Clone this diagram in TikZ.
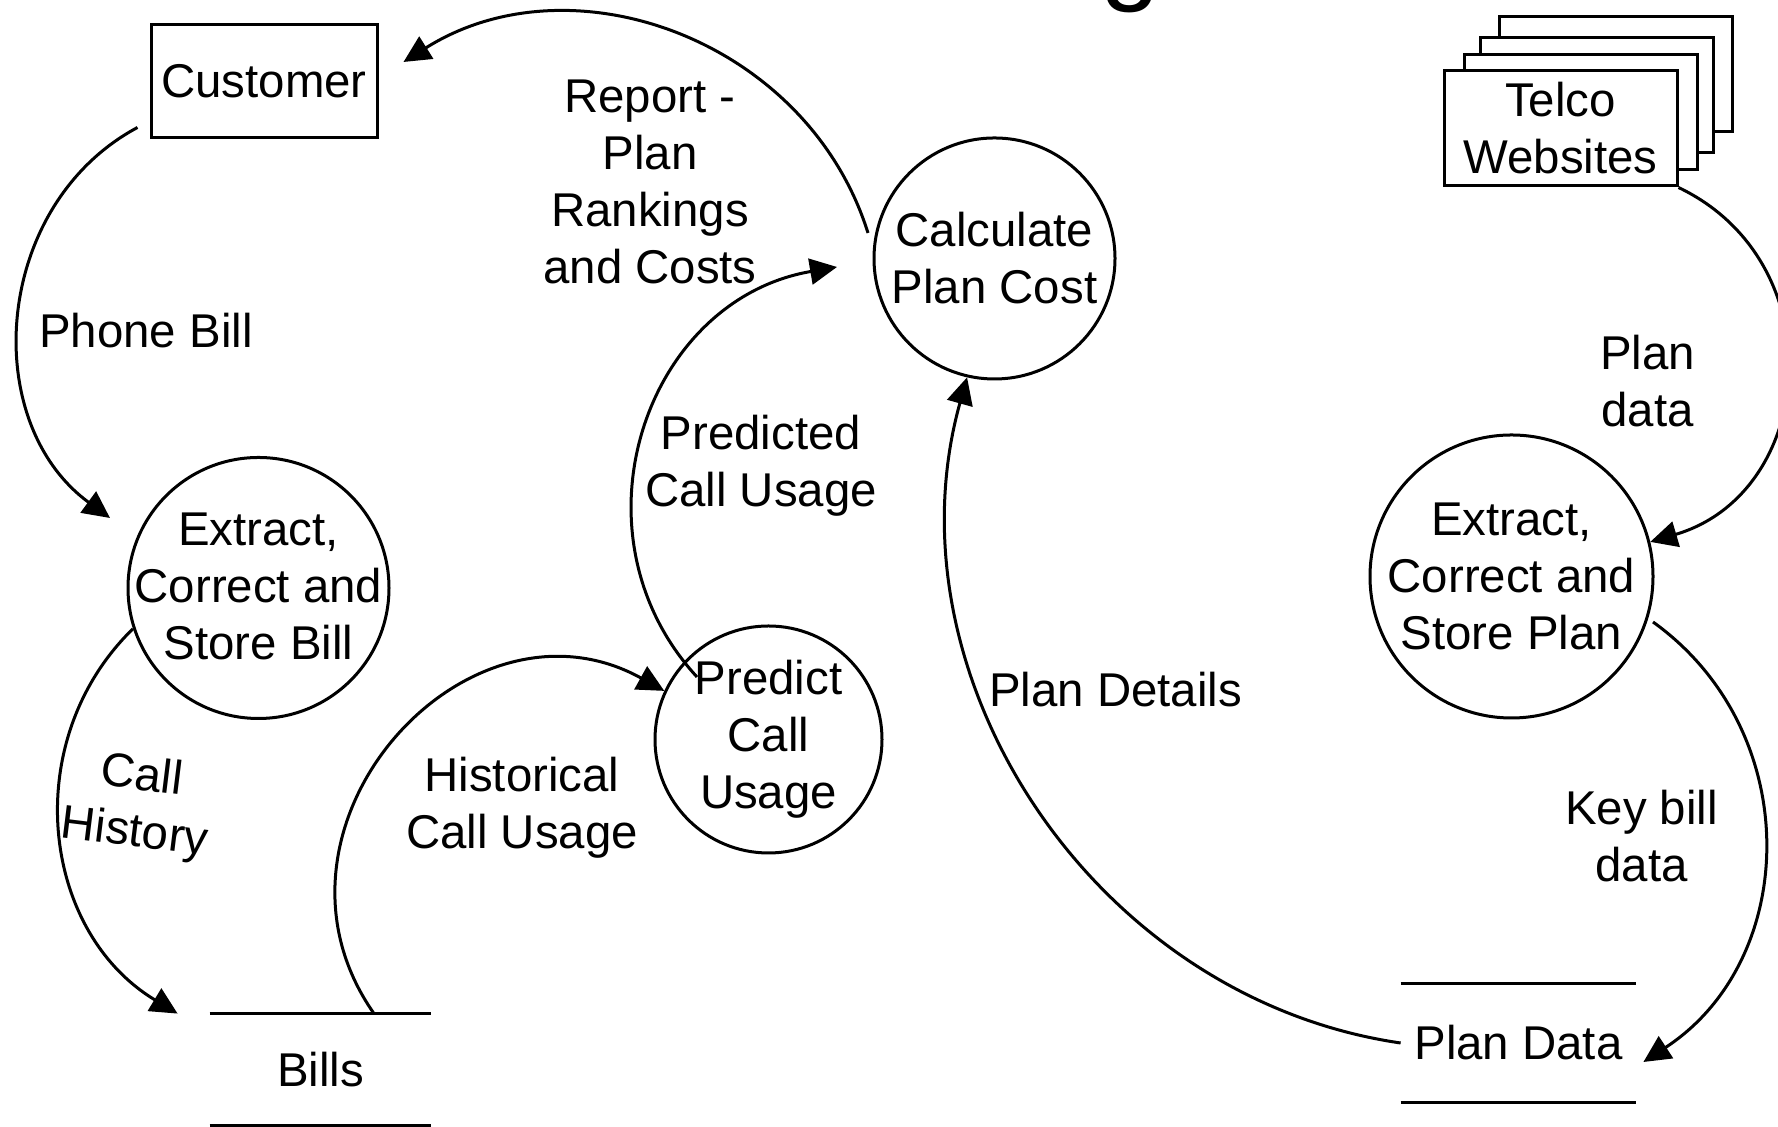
\documentclass[tikz,border=0pt]{standalone}
\usepackage{fontspec}
\setmainfont{Liberation Sans}
\usetikzlibrary{arrows.meta}
\begin{document}
\begin{tikzpicture}[x=0.5pt,y=0.5pt,
  every node/.style={font=\fontsize{23.7}{28.5}\selectfont},
  proc/.style={draw, circle, line width=1.5pt, inner sep=0pt},
  ptext/.style={inner sep=0pt, align=center},
  ent/.style={draw, rectangle, line width=1.5pt, align=center, fill=white, inner sep=2pt, minimum width=116.5pt, minimum height=57.5pt},
  store/.style={inner sep=0pt, align=center},
  lbl/.style={inner sep=0pt, align=center, anchor=north},
  flow/.style={line width=1.5pt, -{Triangle[length=13.5pt,width=13pt]}},
  flowplain/.style={line width=1.5pt}
]
\useasboundingbox (0,0) rectangle (1778,1127);

% title fragment
\node[anchor=base west, inner sep=0pt, font=\fontsize{54}{60}\selectfont] (title) at (1100,1136) {g};

% entities
\node[ent, minimum width=113pt, minimum height=56.5pt] (cust) at (264,1045.5) {Customer};
\node[ent] (tw4) at (1615.5,1052.5) {};
\node[ent] (tw3) at (1597,1032) {};
\node[ent] (tw2) at (1580.5,1015) {};
\node[ent] (telco) at (1560.5,998.5) {Telco\\Websites};

% processes
\node[proc, minimum size=120.5pt] (calc) at (994.5,868.5) {};
\node[ptext] (calct) at (calc.center) {Calculate\\Plan Cost};
\node[proc, minimum size=130.5pt] (bill) at (258.5,539) {};
\node[ptext] (billt) at ([yshift=1pt]bill.center) {Extract,\\Correct and\\Store Bill};
\node[proc, minimum size=113.5pt] (pred) at (768.5,387.5) {};
\node[ptext] (predt) at (pred.center) {Predict\\Call\\Usage};
\node[proc, minimum size=141.5pt] (plan) at (1511.5,550.5) {};
\node[ptext] (plant) at (plan.center) {Extract,\\Correct and\\Store Plan};

% data stores
\node[store, minimum width=110.5pt, minimum height=55.5pt] (bills) at (320.5,57.5) {Bills};
\draw[flowplain] (bills.north west) -- (bills.north east);
\draw[flowplain] (bills.south west) -- (bills.south east);
\node[store, minimum width=117.5pt, minimum height=59pt] (pd) at (1518.5,84) {Plan Data};
\draw[flowplain] (pd.north west) -- (pd.north east);
\draw[flowplain] (pd.south west) -- (pd.south east);

% labels
\node[lbl] (lreport) at (650,1047) {Report -\\Plan\\Rankings\\and Costs};
\node[lbl] (lpred) at (761,712) {Predicted\\Call Usage};
\node[lbl] (lhist) at (522,370) {Historical\\Call Usage};
\node[lbl] (lphone) at (146,814) {Phone Bill};
\node[lbl] (ldet) at (1115.5,455) {Plan Details};
\node[lbl] (lpland) at (1647.5,792) {Plan\\data};
\node[lbl] (lkey) at (1641.5,337) {Key bill\\data};
\node[inner sep=0pt, align=center, rotate=-7] (lcall) at (138,321) {Call\\History};

% connectors
\coordinate (c1s) at ([shift={(-6pt,6pt)}]cust.south west);
\coordinate (c1e) at (110,609);
\draw[flow] (c1s) to[bend right=57.8, looseness=1.07] (c1e);

\coordinate (c2s) at (868,894);
\coordinate (c2e) at ([shift={(12.5pt,9.75pt)}]cust.east);
\draw[flow] (c2s) to[bend right=52.4, looseness=1.04] (c2e);

\coordinate (c3e) at ([xshift=-16pt]bills.north west);
\draw[flow] (bill.198) to[bend right=52.3, looseness=1.057] (c3e);

\coordinate (c4s) at ([xshift=26.75pt]bills.north);
\draw[flow] (c4s) to[bend left=77, looseness=1.34] (pred.155.8);

\coordinate (c5s) at (697,450);
\coordinate (c5e) at (837,860);
\draw[flow] (c5s) to[bend left=61.4, looseness=1.152] (c5e);

\draw[flow] (pd.west) to[bend left=48.65, looseness=1.0] (calc.257);

\draw[flow] (telco.south east) to[bend left=69, looseness=1.254] (plan.14.8);

\coordinate (c8s) at (1653,505);
\coordinate (c8e) at ([shift={(3.5pt,-9.5pt)}]pd.east);
\draw[flow] (c8s) to[bend left=55.55, looseness=1.088] (c8e);
\end{tikzpicture}
\end{document}
